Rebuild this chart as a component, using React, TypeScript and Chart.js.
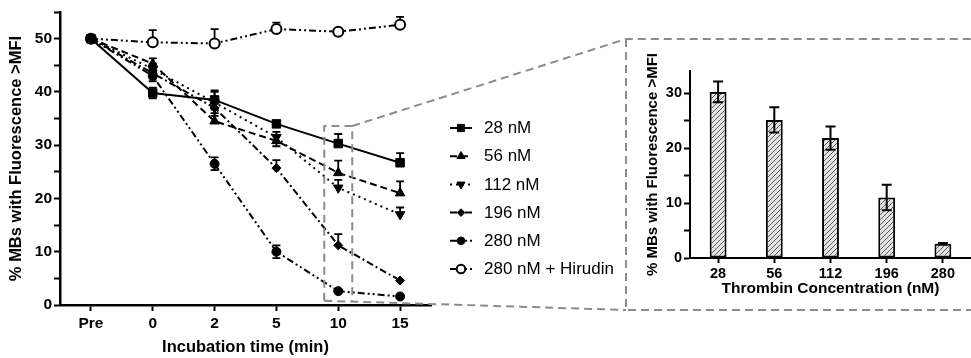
import React, { useEffect, useRef } from 'react';
import { Chart, registerables } from 'chart.js';
import { drawPoint } from 'chart.js/helpers';

Chart.register(...registerables);

// ---------- data ----------
const timeLabels = ['Pre', '0', '2', '5', '10', '15'];
const seriesLabels = ['28 nM', '56 nM', '112 nM', '196 nM', '280 nM', '280 nM + Hirudin'];

const s28 = [50, 39.8, 38.5, 34.0, 30.3, 26.7];
const s28Up = [0, 1.0, 1.8, 0.5, 1.8, 1.8];
const s28Down = [0, 1.0, 1.8, 0.5, 0, 0];

const s56 = [50, 45.3, 34.5, 30.8, 24.8, 21.0];
const s56Up = [0, 1.0, 2.5, 1.0, 2.3, 2.2];
const s56Down = [0, 1.0, 0, 1.0, 0, 0];

const s112 = [50, 44.3, 38.0, 31.5, 22.0, 17.0];
const s112Up = [0, 1.0, 2.0, 1.0, 1.5, 1.3];
const s112Down = [0, 1.0, 2.0, 1.0, 0, 0];

const s196 = [50, 43.5, 37.0, 25.7, 11.2, 4.6];
const s196Up = [0, 1.0, 1.5, 1.5, 2.1, 0];
const s196Down = [0, 1.0, 1.5, 0, 0, 0];

const s280 = [50, 43.0, 26.5, 10.0, 2.6, 1.6];
const s280Up = [0, 1.0, 1.2, 1.2, 0.3, 0.3];
const s280Down = [0, 1.0, 1.2, 1.2, 0.3, 0.3];

const sHir = [50, 49.3, 49.1, 51.8, 51.3, 52.6];
const sHirUp = [0, 2.3, 2.7, 1.2, 0.3, 1.5];
const sHirDown = [0, 0, 0, 0, 0, 0];

const concLabels = ['28', '56', '112', '196', '280'];
const barValues = [30.2, 25.1, 21.8, 11.0, 2.6];
const barErrors = [1.9, 2.3, 2.1, 2.3, 0.15];

const FONT = 'Arial, "Liberation Sans", Helvetica, sans-serif';

// ---------- plugins ----------
const lineErrorBars = {
  id: 'lineErrorBars',
  beforeDatasetsDraw(chart: any) {
    const ctx = chart.ctx;
    const ys = chart.scales.y;
    chart.data.datasets.forEach((ds: any, i: number) => {
      const meta = chart.getDatasetMeta(i);
      meta.data.forEach((pt: any, j: number) => {
        const v = ds.data[j];
        const up = ds.errUp[j];
        const dn = ds.errDown[j];
        ctx.save();
        ctx.strokeStyle = '#000';
        ctx.lineWidth = 1.8;
        ctx.setLineDash([]);
        if (up > 0) {
          const yt = ys.getPixelForValue(v + up);
          ctx.beginPath();
          ctx.moveTo(pt.x, pt.y);
          ctx.lineTo(pt.x, yt);
          ctx.moveTo(pt.x - 4, yt);
          ctx.lineTo(pt.x + 4, yt);
          ctx.stroke();
        }
        if (dn > 0) {
          const yb = ys.getPixelForValue(v - dn);
          ctx.beginPath();
          ctx.moveTo(pt.x, pt.y);
          ctx.lineTo(pt.x, yb);
          ctx.moveTo(pt.x - 4, yb);
          ctx.lineTo(pt.x + 4, yb);
          ctx.stroke();
        }
        ctx.restore();
      });
    });
  },
};

const legendAndZoom = {
  id: 'legendAndZoom',
  afterDraw(chart: any) {
    const ctx = chart.ctx;
    // legend
    chart.data.datasets.forEach((ds: any, i: number) => {
      const yy = 128 + 28.2 * i;
      ctx.save();
      ctx.strokeStyle = '#000';
      ctx.lineWidth = ds.borderWidth;
      ctx.setLineDash(ds.borderDash || []);
      ctx.beginPath();
      ctx.moveTo(450, yy);
      ctx.lineTo(472, yy);
      ctx.stroke();
      ctx.setLineDash([]);
      ctx.fillStyle = ds.pointBackgroundColor;
      ctx.strokeStyle = '#000';
      ctx.lineWidth = ds.pointBorderWidth;
      drawPoint(ctx, {
        pointStyle: ds.pointStyle,
        rotation: ds.pointRotation || 0,
        radius: ds.pointRadius * 0.85,
        borderWidth: ds.pointBorderWidth,
      } as any, 461, yy);
      ctx.fillStyle = '#000';
      ctx.font = '17px ' + FONT;
      ctx.textBaseline = 'middle';
      ctx.textAlign = 'left';
      ctx.fillText(ds.label, 484, yy + 0.5);
      ctx.restore();
    });

    // zoom box and connectors
    const xs = chart.scales.x;
    const ys = chart.scales.y;
    const cx = xs.getPixelForValue(4);
    const l = cx - 14;
    const r = cx + 14;
    const t = ys.getPixelForValue(33.6);
    const b = ys.getPixelForValue(0.8);
    ctx.save();
    ctx.strokeStyle = '#8c8c8c';
    ctx.lineWidth = 2;
    ctx.setLineDash([8, 5]);
    ctx.beginPath();
    ctx.moveTo(l, b);
    ctx.lineTo(l, t);
    ctx.lineTo(r, t);
    ctx.lineTo(r, b);
    ctx.stroke();
    ctx.beginPath();
    ctx.moveTo(r, t);
    ctx.lineTo(626, 39);
    ctx.lineTo(971, 39);
    ctx.moveTo(626, 39);
    ctx.lineTo(626, 310);
    ctx.lineTo(971, 310);
    ctx.moveTo(l, b);
    ctx.lineTo(626, 310);
    ctx.stroke();
    ctx.restore();
  },
};

const barErrorBars = {
  id: 'barErrorBars',
  afterDatasetsDraw(chart: any) {
    const ctx = chart.ctx;
    const ys = chart.scales.y;
    chart.data.datasets.forEach((ds: any, i: number) => {
      const meta = chart.getDatasetMeta(i);
      meta.data.forEach((bar: any, j: number) => {
        const v = ds.data[j];
        const e = ds.errs[j];
        const yt = ys.getPixelForValue(v + e);
        const yb = ys.getPixelForValue(v - e);
        ctx.save();
        ctx.strokeStyle = '#000';
        ctx.lineWidth = 2;
        ctx.beginPath();
        ctx.moveTo(bar.x, yt);
        ctx.lineTo(bar.x, yb);
        ctx.moveTo(bar.x - 5, yt);
        ctx.lineTo(bar.x + 5, yt);
        ctx.moveTo(bar.x - 5, yb);
        ctx.lineTo(bar.x + 5, yb);
        ctx.stroke();
        ctx.restore();
      });
    });
  },
};

function makeHatch() {
  const c = document.createElement('canvas');
  const n = 5;
  c.width = n;
  c.height = n;
  const g = c.getContext('2d') as CanvasRenderingContext2D;
  g.fillStyle = '#e4e4e4';
  g.fillRect(0, 0, n, n);
  g.strokeStyle = '#5a5a5a';
  g.lineWidth = 1;
  g.beginPath();
  g.moveTo(-1, 1);
  g.lineTo(1, -1);
  g.moveTo(0, n);
  g.lineTo(n, 0);
  g.moveTo(n - 1, n + 1);
  g.lineTo(n + 1, n - 1);
  g.stroke();
  return g.createPattern(c, 'repeat') as CanvasPattern;
}

export default function App() {
  const leftRef = useRef<HTMLCanvasElement>(null);
  const rightRef = useRef<HTMLCanvasElement>(null);

  useEffect(() => {
    Chart.defaults.font.family = FONT;
    Chart.defaults.color = '#000';

    const mk = (label: string, data: number[], up: number[], dn: number[], style: any) => ({
      label,
      data,
      errUp: up,
      errDown: dn,
      borderColor: '#000',
      borderWidth: 2,
      borderDash: style.dash,
      pointStyle: style.pointStyle,
      pointRotation: style.rotation || 0,
      pointRadius: style.radius,
      pointHoverRadius: style.radius,
      pointBackgroundColor: style.bg || '#000',
      pointBorderColor: '#000',
      pointBorderWidth: style.bw || 1,
      tension: 0,
      fill: false,
    });

    const left = new Chart(leftRef.current as HTMLCanvasElement, {
      type: 'line',
      data: {
        labels: timeLabels,
        datasets: [
          mk(seriesLabels[0], s28, s28Up, s28Down, { pointStyle: 'rect', radius: 6, dash: [] }),
          mk(seriesLabels[1], s56, s56Up, s56Down, { pointStyle: 'triangle', radius: 5.5, dash: [7, 4] }),
          mk(seriesLabels[2], s112, s112Up, s112Down, { pointStyle: 'triangle', rotation: 180, radius: 5.5, dash: [2, 4] }),
          mk(seriesLabels[3], s196, s196Up, s196Down, { pointStyle: 'rectRot', radius: 4.5, dash: [7, 3, 2, 3] }),
          mk(seriesLabels[4], s280, s280Up, s280Down, { pointStyle: 'circle', radius: 4.5, dash: [7, 3, 2, 3, 2, 3] }),
          mk(seriesLabels[5], sHir, sHirUp, sHirDown, { pointStyle: 'circle', radius: 5, dash: [7, 3, 2, 3, 2, 3], bg: '#fff', bw: 2 }),
        ] as any,
      },
      options: {
        responsive: false,
        animation: false,
        layout: { padding: { left: 0, right: 540, top: 12, bottom: 0 } },
        plugins: { legend: { display: false }, tooltip: { enabled: false } },
        scales: {
          x: {
            type: 'category',
            offset: true,
            grid: { offset: false, drawOnChartArea: false, drawTicks: true, tickLength: 6, tickWidth: 2, tickColor: '#000' },
            border: { color: '#000', width: 2.5 },
            ticks: { color: '#000', font: { size: 15.5, weight: 'bold' }, padding: 3, maxRotation: 0, autoSkip: false },
            title: { display: true, text: 'Incubation time (min)', color: '#000', font: { size: 16.5, weight: 'bold' }, padding: { top: 0, bottom: 1 } },
            afterFit: (s: any) => { s.height = 53; s.paddingLeft = 0; s.paddingRight = 0; },
          },
          y: {
            min: 0,
            max: 55,
            ticks: {
              stepSize: 5,
              color: '#000',
              font: { size: 15.5, weight: 'bold' },
              padding: 2,
              callback: (v: any) => (Number(v) % 10 === 0 ? String(v) : ''),
            },
            grid: { drawOnChartArea: false, drawTicks: true, tickLength: 6, tickWidth: 2, tickColor: '#000' },
            border: { color: '#000', width: 2.5 },
            title: { display: true, text: '% MBs with Fluorescence >MFI', color: '#000', font: { size: 16.5, weight: 'bold' }, padding: { top: 7, bottom: 0 } },
            afterFit: (s: any) => { s.width = 60; s.paddingTop = 0; s.paddingBottom = 0; },
          },
        },
      } as any,
      plugins: [lineErrorBars, legendAndZoom],
    });

    const right = new Chart(rightRef.current as HTMLCanvasElement, {
      type: 'bar',
      data: {
        labels: concLabels,
        datasets: [
          {
            data: barValues,
            errs: barErrors,
            backgroundColor: makeHatch(),
            borderColor: '#000',
            borderWidth: 2,
            borderSkipped: false,
            barPercentage: 0.3,
            categoryPercentage: 1,
          } as any,
        ],
      },
      options: {
        responsive: false,
        animation: false,
        layout: { padding: { left: 630, right: 0, top: 71, bottom: 48 } },
        plugins: { legend: { display: false }, tooltip: { enabled: false } },
        scales: {
          x: {
            grid: { offset: false, drawOnChartArea: false, drawTicks: true, tickLength: 5, tickWidth: 2, tickColor: '#000' },
            border: { color: '#000', width: 2 },
            ticks: { color: '#000', font: { size: 14.5, weight: 'bold' }, padding: 2, maxRotation: 0, autoSkip: false },
            title: { display: true, text: 'Thrombin Concentration (nM)', color: '#000', font: { size: 15.5, weight: 'bold' }, padding: { top: 0, bottom: 12 } },
            afterFit: (s: any) => { s.height = 52; s.paddingLeft = 0; s.paddingRight = 0; },
          },
          y: {
            min: 0,
            max: 34,
            ticks: {
              stepSize: 5,
              color: '#000',
              font: { size: 14.5, weight: 'bold' },
              padding: 2,
              callback: (v: any) => (Number(v) % 10 === 0 ? String(v) : ''),
            },
            afterBuildTicks: (s: any) => { s.ticks = s.ticks.filter((t: any) => t.value % 5 === 0); },
            grid: { drawOnChartArea: false, drawTicks: true, tickLength: 6, tickWidth: 2, tickColor: '#000' },
            border: { color: '#000', width: 2 },
            title: { display: true, text: '% MBs with Fluorescence >MFI', color: '#000', font: { size: 15, weight: 'bold' }, padding: { top: 14, bottom: 0 } },
            afterFit: (s: any) => { s.width = 60; s.paddingTop = 0; s.paddingBottom = 0; },
          },
        },
      } as any,
      plugins: [barErrorBars],
    });

    return () => {
      left.destroy();
      right.destroy();
    };
  }, []);

  return (
    <div style={{ position: 'absolute', left: 0, top: 0, width: 971, height: 358, background: '#fff', overflow: 'hidden' }}>
      <canvas ref={leftRef} width={971} height={358} style={{ position: 'absolute', left: 0, top: 0 }} />
      <canvas ref={rightRef} width={971} height={358} style={{ position: 'absolute', left: 0, top: 0 }} />
    </div>
  );
}
